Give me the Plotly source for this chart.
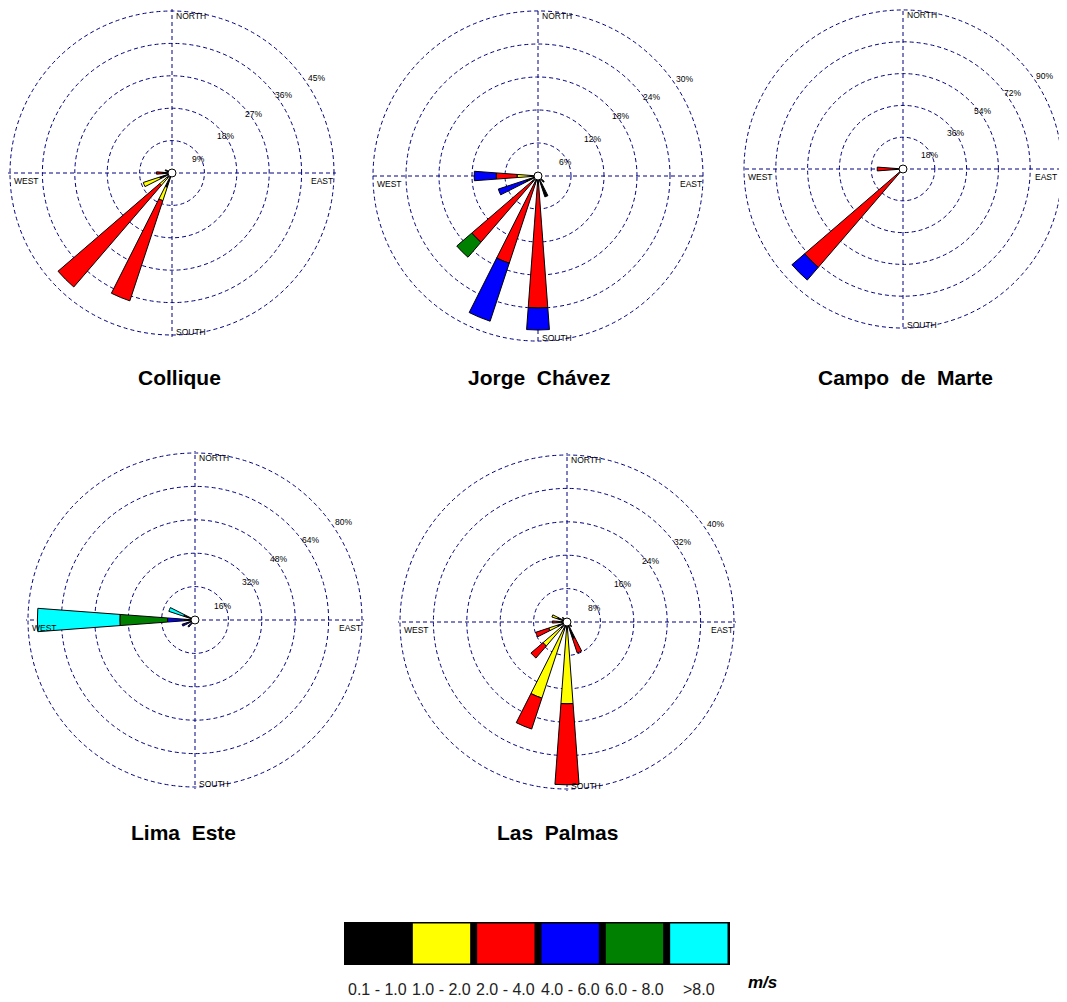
import plotly.graph_objects as go

# page window and the default 8px body margin of the html page
PAGE_W, PAGE_H = 1067, 1002
BODY_MARGIN = 8
W, H = PAGE_W - BODY_MARGIN, PAGE_H - BODY_MARGIN

# ---------------- data ----------------
directions = [0, 22.5, 45, 67.5, 90, 112.5, 135, 157.5,
              180, 202.5, 225, 247.5, 270, 292.5, 315, 337.5]
direction_names = ["N", "NNE", "NE", "ENE", "E", "ESE", "SE", "SSE",
                   "S", "SSW", "SW", "WSW", "W", "WNW", "NW", "NNW"]

speed_classes = ["0.1 - 1.0", "1.0 - 2.0", "2.0 - 4.0", "4.0 - 6.0", "6.0 - 8.0", ">8.0"]
class_colors = ["#000000", "#FFFF00", "#FF0000", "#0000FF", "#008000", "#00FFFF"]

stations = ["Collique", "Jorge  Chávez", "Campo  de  Marte", "Lima  Este", "Las  Palmas"]

# frequency (%) : one row per speed class, columns N .. NNW
collique = [
    [0, 0, 0, 0, 0, 0, 0, 0, 1.0, 4.2, 2.0, 3.6, 2.5, 2.0, 1.0, 0],   # 0.1-1.0
    [0, 0, 0, 0, 0, 0, 0, 0, 0, 3.9, 2.5, 4.8, 0, 0, 0, 0],           # 1.0-2.0
    [0, 0, 0, 0, 0, 0, 0, 0, 0, 29.3, 37.3, 0, 1.8, 0, 0, 0],         # 2.0-4.0
    [0, 0, 0, 0, 0, 0, 0, 0, 0, 0, 0, 0, 0, 0, 0, 0],                 # 4.0-6.0
    [0, 0, 0, 0, 0, 0, 0, 0, 0, 0, 0, 0, 0, 0, 0, 0],                 # 6.0-8.0
    [0, 0, 0, 0, 0, 0, 0, 0, 0, 0, 0, 0, 0, 0, 0, 0],                 # >8.0
]
jorge_chavez = [
    [0, 0, 0, 0, 0, 0, 1.5, 4.0, 1.5, 1.5, 1.5, 2.3, 1.5, 0, 0, 0],
    [0, 0, 0, 0, 0, 0, 0, 0, 0, 0, 0, 0, 2.3, 0, 0, 0],
    [0, 0, 0, 0, 0, 0, 0, 0, 22.5, 15.2, 14.4, 0, 3.8, 0, 0, 0],
    [0, 0, 0, 0, 0, 0, 0, 0, 4.0, 11.1, 0, 5.3, 4.0, 0, 0, 0],
    [0, 0, 0, 0, 0, 0, 0, 0, 0, 0, 3.6, 0, 0, 0, 0, 0],
    [0, 0, 0, 0, 0, 0, 0, 0, 0, 0, 0, 0, 0, 0, 0, 0],
]
campo_de_marte = [
    [0, 0, 0, 0, 0, 0, 0, 0, 0, 0, 1.0, 0, 1.5, 0, 0, 0],
    [0, 0, 0, 0, 0, 0, 0, 0, 0, 0, 0, 0, 0, 0, 0, 0],
    [0, 0, 0, 0, 0, 0, 0, 0, 0, 0, 72.5, 0, 13.1, 0, 0, 0],
    [0, 0, 0, 0, 0, 0, 0, 0, 0, 0, 9.5, 0, 0, 0, 0, 0],
    [0, 0, 0, 0, 0, 0, 0, 0, 0, 0, 0, 0, 0, 0, 0, 0],
    [0, 0, 0, 0, 0, 0, 0, 0, 0, 0, 0, 0, 0, 0, 0, 0],
]
lima_este = [
    [0, 0, 0, 0, 0, 0, 0, 0, 0, 0, 2.0, 3.0, 5.1, 5.7, 0, 0],
    [0, 0, 0, 0, 0, 0, 0, 0, 0, 0, 0, 0, 0, 0, 0, 0],
    [0, 0, 0, 0, 0, 0, 0, 0, 0, 0, 0, 0, 0, 0, 0, 0],
    [0, 0, 0, 0, 0, 0, 0, 0, 0, 0, 2.5, 3.5, 8.1, 0, 0, 0],
    [0, 0, 0, 0, 0, 0, 0, 0, 0, 0, 0, 0, 22.8, 0, 0, 0],
    [0, 0, 0, 0, 0, 0, 0, 0, 0, 0, 0, 0, 39.5, 7.5, 0, 0],
]
las_palmas = [
    [0, 0, 0, 0, 0, 0, 1.5, 4.2, 2.0, 2.0, 2.0, 2.4, 1.5, 2.4, 1.5, 0],
    [0, 0, 0, 0, 0, 0, 0, 0, 17.6, 17.2, 5.6, 2.2, 0.5, 1.4, 0, 0],
    [0, 0, 0, 0, 0, 0, 0, 3.6, 19.4, 7.8, 3.8, 3.3, 1.5, 0, 0, 0],
    [0, 0, 0, 0, 0, 0, 0, 0, 0, 0, 0, 0, 0, 0, 0, 0],
    [0, 0, 0, 0, 0, 0, 0, 0, 0, 0, 0, 0, 0, 0, 0, 0],
    [0, 0, 0, 0, 0, 0, 0, 0, 0, 0, 0, 0, 0, 0, 0, 0],
]

collique_rings = [9, 18, 27, 36, 45]
jorge_chavez_rings = [6, 12, 18, 24, 30]
campo_de_marte_rings = [18, 36, 54, 72, 90]
lima_este_rings = [16, 32, 48, 64, 80]
las_palmas_rings = [8, 16, 24, 32, 40]

compass_labels = ["NORTH", "SOUTH", "WEST", "EAST"]

# ---------------- layout geometry (page pixels) ----------------
station_data = [collique, jorge_chavez, campo_de_marte, lima_este, las_palmas]
station_rings = [collique_rings, jorge_chavez_rings, campo_de_marte_rings,
                 lima_este_rings, las_palmas_rings]
rose_geom = [(172, 173, 162), (538, 176, 165), (903, 169, 159), (195, 620, 167), (567, 622, 167)]
title_pos = [(179, 377), (539, 377), (905, 377), (183, 832), (557, 832)]
ring_label_offsets = [(0.165, -0.085), (0.33, -0.226), (0.50, -0.364), (0.69, -0.48), (0.89, -0.588)]
VISIBLE_RIGHT = 1058   # right edge of the area the page shows
RANGE_PAD = 1.012      # small headroom so the outermost ring is drawn as a grid circle

NAVY = "#000080"
DASH = "4px,3px"
SMALL_FONT = dict(family="Liberation Sans, Arial, sans-serif", size=8.5, color="black")


def px(x):
    return (x - BODY_MARGIN) / W


def py(y):
    return 1 - (y - BODY_MARGIN) / H


fig = go.Figure()
annotations = []
shapes = []
layout_polars = {}

for k, (data, rings, (cx, cy, rr)) in enumerate(zip(station_data, station_rings, rose_geom)):
    pid = "polar" if k == 0 else f"polar{k + 1}"
    rmax = rings[-1]
    for c in range(len(speed_classes)):
        th = [d for d, v in zip(directions, data[c]) if v > 0]
        rv = [v for v in data[c] if v > 0]
        if not rv:
            continue
        fig.add_trace(go.Barpolar(
            r=rv, theta=th, width=8.5,
            marker=dict(color=class_colors[c], line=dict(color="black", width=1)),
            subplot=pid, hoverinfo="skip", showlegend=False,
        ))
    # calm circle at the centre
    fig.add_trace(go.Scatterpolar(
        r=[0], theta=[0], mode="markers",
        marker=dict(size=8, color="white", line=dict(color="black", width=1)),
        subplot=pid, cliponaxis=False, hoverinfo="skip", showlegend=False,
    ))

    R = min(rr * RANGE_PAD, cx - BODY_MARGIN, cy - BODY_MARGIN)
    layout_polars[pid] = dict(
        domain=dict(x=[max(0, px(cx - R)), min(1, px(cx + R))],
                    y=[max(0, py(cy + R)), min(1, py(cy - R))]),
        bgcolor="rgba(0,0,0,0)",
        barmode="stack",
        angularaxis=dict(
            rotation=90, direction="clockwise",
            tickmode="array", tickvals=[0, 90, 180, 270],
            showticklabels=False, ticks="", showline=False,
            showgrid=True, gridcolor=NAVY, gridwidth=1, griddash=DASH,
        ),
        radialaxis=dict(
            range=[0, rmax * R / rr], tickmode="array", tickvals=rings,
            showticklabels=False, ticks="", showline=False,
            showgrid=True, gridcolor=NAVY, gridwidth=1, griddash=DASH,
        ),
    )

    # ring labels
    for t, (fx, fy) in zip(rings, ring_label_offsets):
        annotations.append(dict(
            x=px(cx + fx * rr), y=py(cy + fy * rr), xref="paper", yref="paper",
            text=f"{t}%", showarrow=False, font=SMALL_FONT,
            xanchor="center", yanchor="middle", borderpad=0,
        ))
    # compass labels
    comp_pos = [
        (cx + 3, cy - rr + 5, "left"),
        (cx + 3, cy + rr - 3, "left"),
        (cx - rr + 3, cy + 8, "left"),
        (min(cx + rr, VISIBLE_RIGHT), cy + 8, "right"),
    ]
    for lab, (x, y, anc) in zip(compass_labels, comp_pos):
        annotations.append(dict(
            x=px(x), y=py(y), xref="paper", yref="paper", text=lab,
            showarrow=False, font=SMALL_FONT, xanchor=anc, yanchor="middle",
            borderpad=0,
        ))
    # station title
    tx, ty = title_pos[k]
    annotations.append(dict(
        x=px(tx), y=py(ty), xref="paper", yref="paper",
        text=f"<b>{stations[k]}</b>", showarrow=False,
        font=dict(family="Liberation Sans, Arial, sans-serif", size=21, color="black"),
        xanchor="center", yanchor="middle",
    ))

# ---------------- speed legend ----------------
LEG_X0, LEG_X1, LEG_Y0, LEG_Y1 = 344, 730, 922, 965
cell = (LEG_X1 - LEG_X0) / len(speed_classes)
shapes.append(dict(type="rect", xref="paper", yref="paper",
                   x0=px(LEG_X0), x1=px(LEG_X1), y0=py(LEG_Y1), y1=py(LEG_Y0),
                   fillcolor="black", line=dict(width=0)))
for i, (lab, col) in enumerate(zip(speed_classes, class_colors)):
    c0 = LEG_X0 + i * cell
    if i > 0:
        shapes.append(dict(type="rect", xref="paper", yref="paper",
                           x0=px(c0 + 4.5), x1=px(c0 + cell - 2.5),
                           y0=py(LEG_Y1 - 1.5), y1=py(LEG_Y0 + 1.5),
                           fillcolor=col, line=dict(width=0)))
    annotations.append(dict(
        x=px(c0 + cell / 2 + 1), y=py(989), xref="paper", yref="paper",
        text=lab, showarrow=False,
        font=dict(family="Liberation Sans, Arial, sans-serif", size=16, color="#222222"),
        xanchor="center", yanchor="middle",
    ))
annotations.append(dict(
    x=px(762), y=py(982), xref="paper", yref="paper", text="<b><i>m/s</i></b>",
    showarrow=False, font=dict(family="Liberation Sans, Arial, sans-serif", size=17, color="black"),
    xanchor="center", yanchor="middle",
))

fig.update_layout(
    width=W, height=H,
    margin=dict(l=0, r=0, t=0, b=0),
    paper_bgcolor="white", plot_bgcolor="white",
    showlegend=False, hovermode=False,
    annotations=annotations, shapes=shapes,
    **layout_polars,
)

fig.write_html("out.html")
